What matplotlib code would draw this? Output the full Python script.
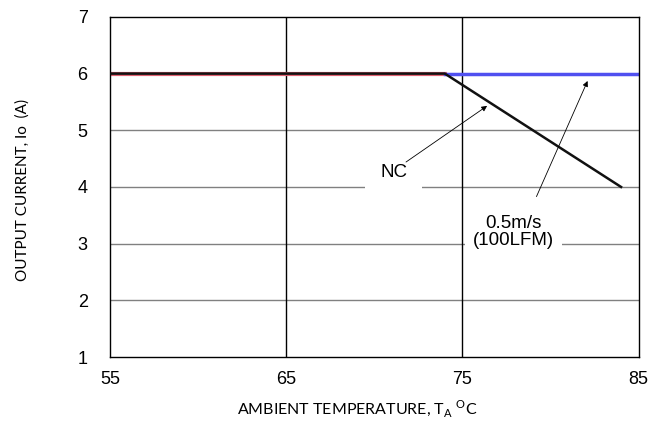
import matplotlib.pyplot as plt

# Data
nc_temp = [55, 74, 84]
nc_current = [6, 6, 4]
red_temp = [55, 74]
red_current = [6, 6]
air_temp = [74, 85]
air_current = [6, 6]

x_ticks = [55, 65, 75, 85]
y_ticks = [1, 2, 3, 4, 5, 6, 7]

fig = plt.figure(figsize=(6.66, 4.23), dpi=100)
ax = fig.add_axes([0.165, 0.156, 0.794, 0.804])

# Grid: gray horizontal, black vertical
for y in y_ticks[1:-1]:
    ax.axhline(y, color='#808080', lw=1, zorder=1)
for x in x_ticks[1:-1]:
    ax.axvline(x, color='black', lw=1, zorder=1)

ax.plot(red_temp, red_current, color='#e06070', lw=3.0, zorder=2)
ax.plot(air_temp, air_current, color='#5050f0', lw=2.5, zorder=2)
ax.plot(nc_temp, nc_current, color='#111111', lw=1.8, zorder=3)

# Labels with white boxes covering grid
ax.text(71.1, 4.25, 'NC', ha='center', va='center', fontsize=13.5,
        family='Liberation Sans', zorder=4,
        bbox=dict(facecolor='white', edgecolor='none', pad=11))
ax.text(77.9, 3.2, '0.5m/s\n(100LFM)', ha='center', va='center', fontsize=13.5,
        family='Liberation Sans', zorder=4, linespacing=1.0,
        bbox=dict(facecolor='white', edgecolor='none', pad=6))

ax.annotate('', xy=(76.4, 5.43), xytext=(71.8, 4.44), zorder=5,
            arrowprops=dict(arrowstyle='-|>', color='black', lw=0.6,
                            mutation_scale=8, shrinkA=0, shrinkB=0))
ax.annotate('', xy=(82.1, 5.87), xytext=(79.2, 3.83), zorder=5,
            arrowprops=dict(arrowstyle='-|>', color='black', lw=0.6,
                            mutation_scale=8, shrinkA=0, shrinkB=0))

ax.set_xlim(55, 85)
ax.set_ylim(1, 7)
ax.set_xticks(x_ticks)
ax.set_yticks(y_ticks)
ax.tick_params(length=0, labelsize=13)
ax.tick_params(axis='x', pad=10)
ax.tick_params(axis='y', pad=16)
for lab in ax.get_xticklabels() + ax.get_yticklabels():
    lab.set_family('Liberation Sans')
for s in ax.spines.values():
    s.set_color('black')
    s.set_linewidth(1)

ax.set_xlabel('AMBIENT TEMPERATURE, T$_\\mathregular{A}$ $^\\mathregular{O}$C',
              family='Lato', fontsize=11.5, va='center')
ax.set_ylabel('OUTPUT CURRENT, Io  (A)', family='Lato', fontsize=11, va='center')
ax.xaxis.set_label_coords(0.467, -0.15)
ax.yaxis.set_label_coords(-0.166, 0.49)

fig.savefig('out.png', dpi=100)
